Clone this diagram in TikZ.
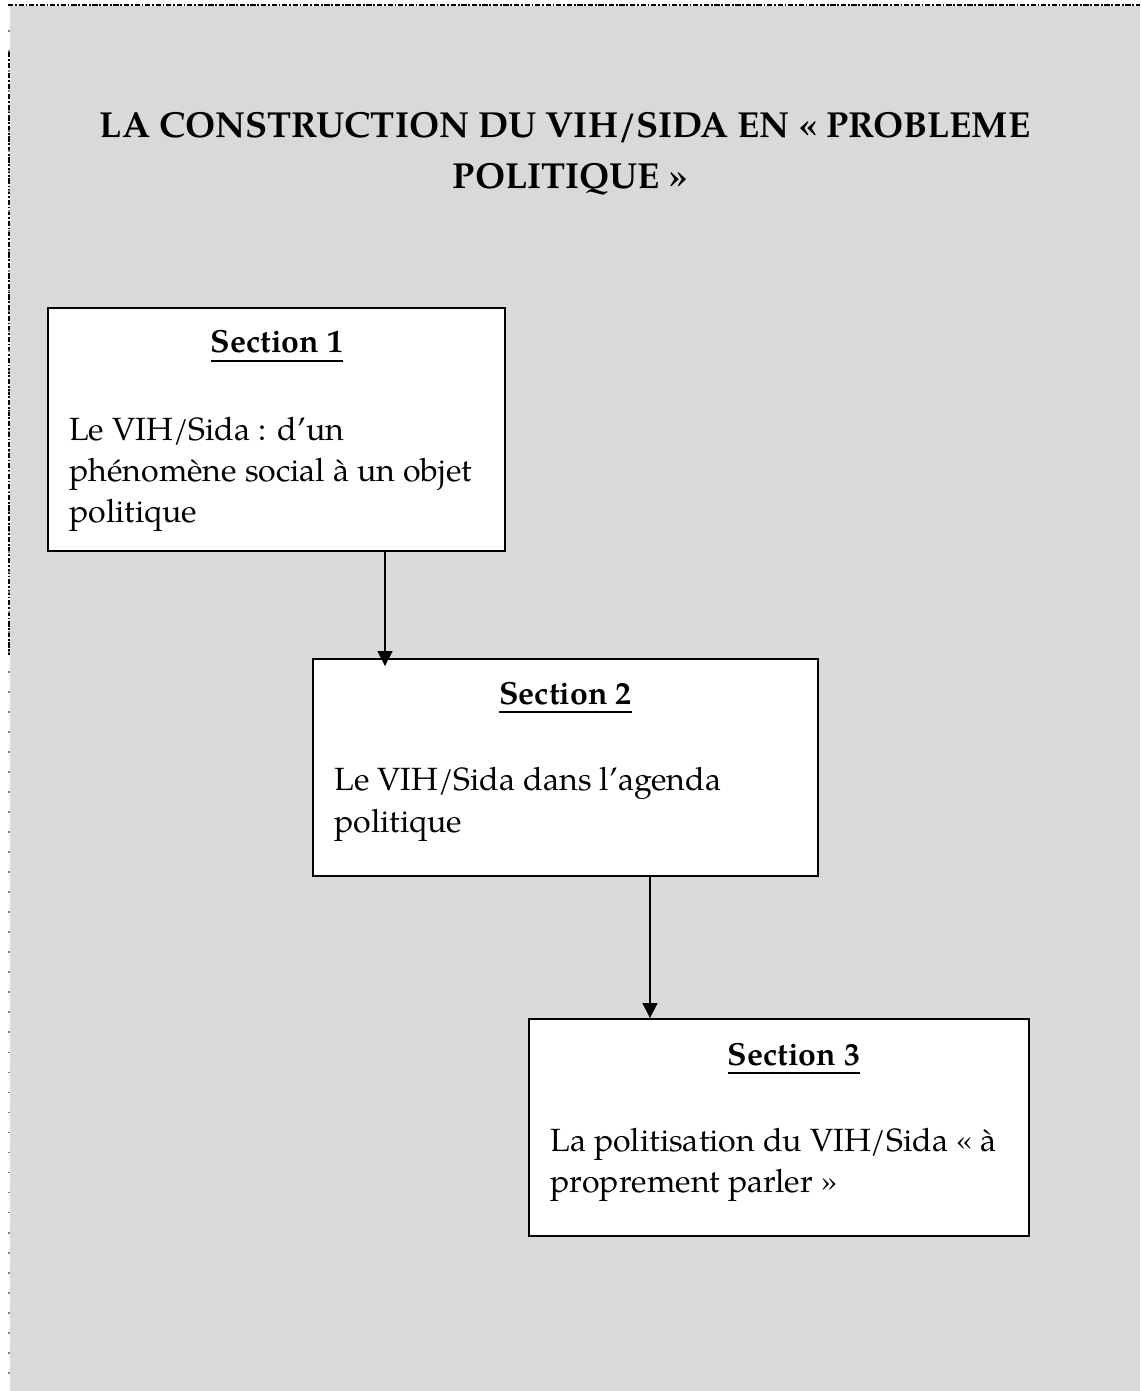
\documentclass[tikz,border=0pt]{standalone}
\usepackage{fontspec}
\setmainfont{texgyrepagella}[Extension=.otf, UprightFont=*-regular, BoldFont=*-bold, ItalicFont=*-italic, BoldItalicFont=*-bolditalic]
\usetikzlibrary{arrows.meta,positioning}
\definecolor{pagegray}{RGB}{217,217,217}
\newcommand{\secline}[1]{\setbox0\hbox{#1}\rlap{\rule[-5pt]{\wd0}{1pt}}\box0}

\begin{document}
\begin{tikzpicture}[x=0.02cm, y=-0.02cm,
    secbox/.style={draw, line width=1.1pt, fill=white, inner sep=0pt},
    title/.style={anchor=base, inner sep=0pt, font=\fontsize{20.6}{26}\selectfont\bfseries},
    head/.style={anchor=base, inner sep=0pt, font=\fontsize{18.2}{22}\selectfont\bfseries},
    body/.style={anchor=base west, inner sep=0pt, font=\fontsize{18.3}{22}\selectfont},
    flow/.style={line width=0.85pt, -{Triangle[length=8.5pt, width=8.5pt]}}]
    \useasboundingbox (0,0) rectangle (1140,1391);
    % Page background and frame
    \fill[pagegray] (10,6) rectangle (1140,1391);
    \draw[line width=0.6pt, dash pattern=on 3pt off 1pt on 1pt off 1pt] (8,5) -- (1140,5);
    \draw[line width=1.6pt, dash pattern=on 3pt off 1pt on 1pt off 1pt] (9,52) -- (9,655);
    \draw[gray, line width=1.2pt, dash pattern=on 1pt off 10.4pt] (9,30) -- (9,1391);

    % Title
    \node[title] (t1) at (565,138) {LA CONSTRUCTION DU VIH/SIDA EN « PROBLEME};
    \node[title] (t2) at (570,189) {POLITIQUE »};

    % Section 1
    \node[secbox, minimum width=9.14cm, minimum height=4.86cm] (s1) at (276.5,429.5) {};
    \node[head] (h1) at (277,353) {\secline{Section 1}};
    \node[body] (b1a) at (69,440) {Le VIH/Sida : d’un};
    \node[body] (b1b) at (69,481) {phénomène social à un objet};
    \node[body] (b1c) at (69,522) {politique};

    % Section 2
    \node[secbox, minimum width=10.1cm, minimum height=4.34cm] (s2) at (565.5,767.5) {};
    \node[head] (h2) at (565.5,704) {\secline{Section 2}};
    \node[body] (b2a) at (334,790) {Le VIH/Sida dans l’agenda};
    \node[body] (b2b) at (334,832) {politique};

    % Section 3
    \node[secbox, minimum width=10cm, minimum height=4.34cm] (s3) at (779,1127.5) {};
    \node[head] (h3) at (794,1065) {\secline{Section 3}};
    \node[body] (b3a) at (550,1151) {La politisation du VIH/Sida « à};
    \node[body] (b3b) at (550,1192) {proprement parler »};

    % Arrows
    \coordinate (a1) at (385,0);
    \coordinate (a2) at (650,0);
    \draw[flow, shorten >=-0.16cm] (s1.south -| a1) -- (s2.north -| a1);
    \draw[flow] (s2.south -| a2) -- (s3.north -| a2);
\end{tikzpicture}
\end{document}
